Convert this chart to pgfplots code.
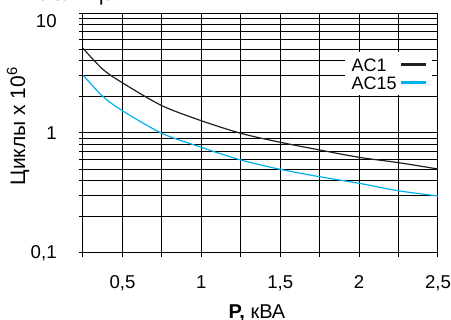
\documentclass[border=0pt]{standalone}
\usepackage{fontspec}
\setmainfont{Liberation Sans}
\usepackage{pgfplots}
\pgfplotsset{compat=1.18}
\definecolor{accyan}{RGB}{0,176,240}
\definecolor{acblack}{RGB}{35,31,32}
\begin{document}
\fontsize{9}{10}\selectfont
\begin{tikzpicture}
\begin{axis}[
  at={(0,0)}, anchor=south west,
  scale only axis, width=177.5pt, height=120pt,
  ymode=log, xmin=0.25, xmax=2.5, ymin=0.1, ymax=10,
  xtick={0.5,1,1.5,2,2.5},
  xticklabels={{0,5},1,{1,5},2,{2,5}},
  minor xtick={0.25,0.75,1.25,1.75,2.25},
  ytick={0.1,1},
  yticklabels={{0,1},1},
  minor ytick={0.2,0.3,0.4,0.5,0.6,0.7,0.8,0.9,2,3,4,5,6,7,8,9},
  extra y ticks={10},
  extra y tick labels={10},
  extra y tick style={yticklabel style={yshift=-4pt}},
  /pgf/number format/assume math mode=true,
  grid=both,
  major grid style={black, line width=0.5pt},
  minor grid style={black, line width=0.5pt},
  axis line style={black, line width=0.5pt},
  tick align=outside,
  major tick length=2pt, minor tick length=2pt,
  tick style={black, line width=0.5pt},
  ytick pos=left, xtick pos=bottom,
  yticklabel shift=8pt,
  xticklabel shift=6pt,
  ticklabel style={font=\fontsize{9.3}{10}\selectfont},
  legend style={at={(axis description cs:0.983,0.84)}, anchor=north east,
    draw=none, fill=white, font=\fontsize{9}{9.5}\selectfont,
    inner sep=2pt, row sep=0pt,
    nodes={inner sep=1.2pt, text height=6.5pt, text depth=0pt}},
  legend plot pos=right,
  legend cell align=left,
  legend image code/.code={\draw[#1, line width=1.7pt] (0pt,0pt) -- (12.5pt,0pt);},
]
\addplot[acblack, line width=0.6pt, smooth] coordinates {
(0.25,5.08) (0.375,3.4) (0.5,2.62) (0.75,1.69) (1.0,1.266) (1.25,0.994)
(1.5,0.837) (1.75,0.722) (2.0,0.627) (2.25,0.566) (2.5,0.501)};
\addlegendentry{AC1}
\addplot[accyan, line width=0.6pt, smooth] coordinates {
(0.25,3.04) (0.375,2.02) (0.5,1.534) (0.75,0.994) (1.0,0.760) (1.25,0.596)
(1.5,0.498) (1.75,0.432) (2.0,0.381) (2.25,0.330) (2.5,0.2985)};
\addlegendentry{AC15}
\end{axis}
\node[anchor=base west, inner sep=0pt, font=\fontsize{11.5}{12}\selectfont] at (-29pt,126pt) {Таблица 1};
\node[rotate=90, inner sep=0pt, font=\fontsize{10.5}{11}\selectfont] at (-32.5pt,63.5pt) {Циклы x 10\textsuperscript{6}};
\node[inner sep=0pt, font=\fontsize{10}{11}\selectfont] at (87pt,-30pt) {\textbf{P,} кВА};
\pgfresetboundingbox
\useasboundingbox (-41.5pt,-33.5pt) rectangle (184pt,126.5pt);
\end{tikzpicture}
\end{document}
